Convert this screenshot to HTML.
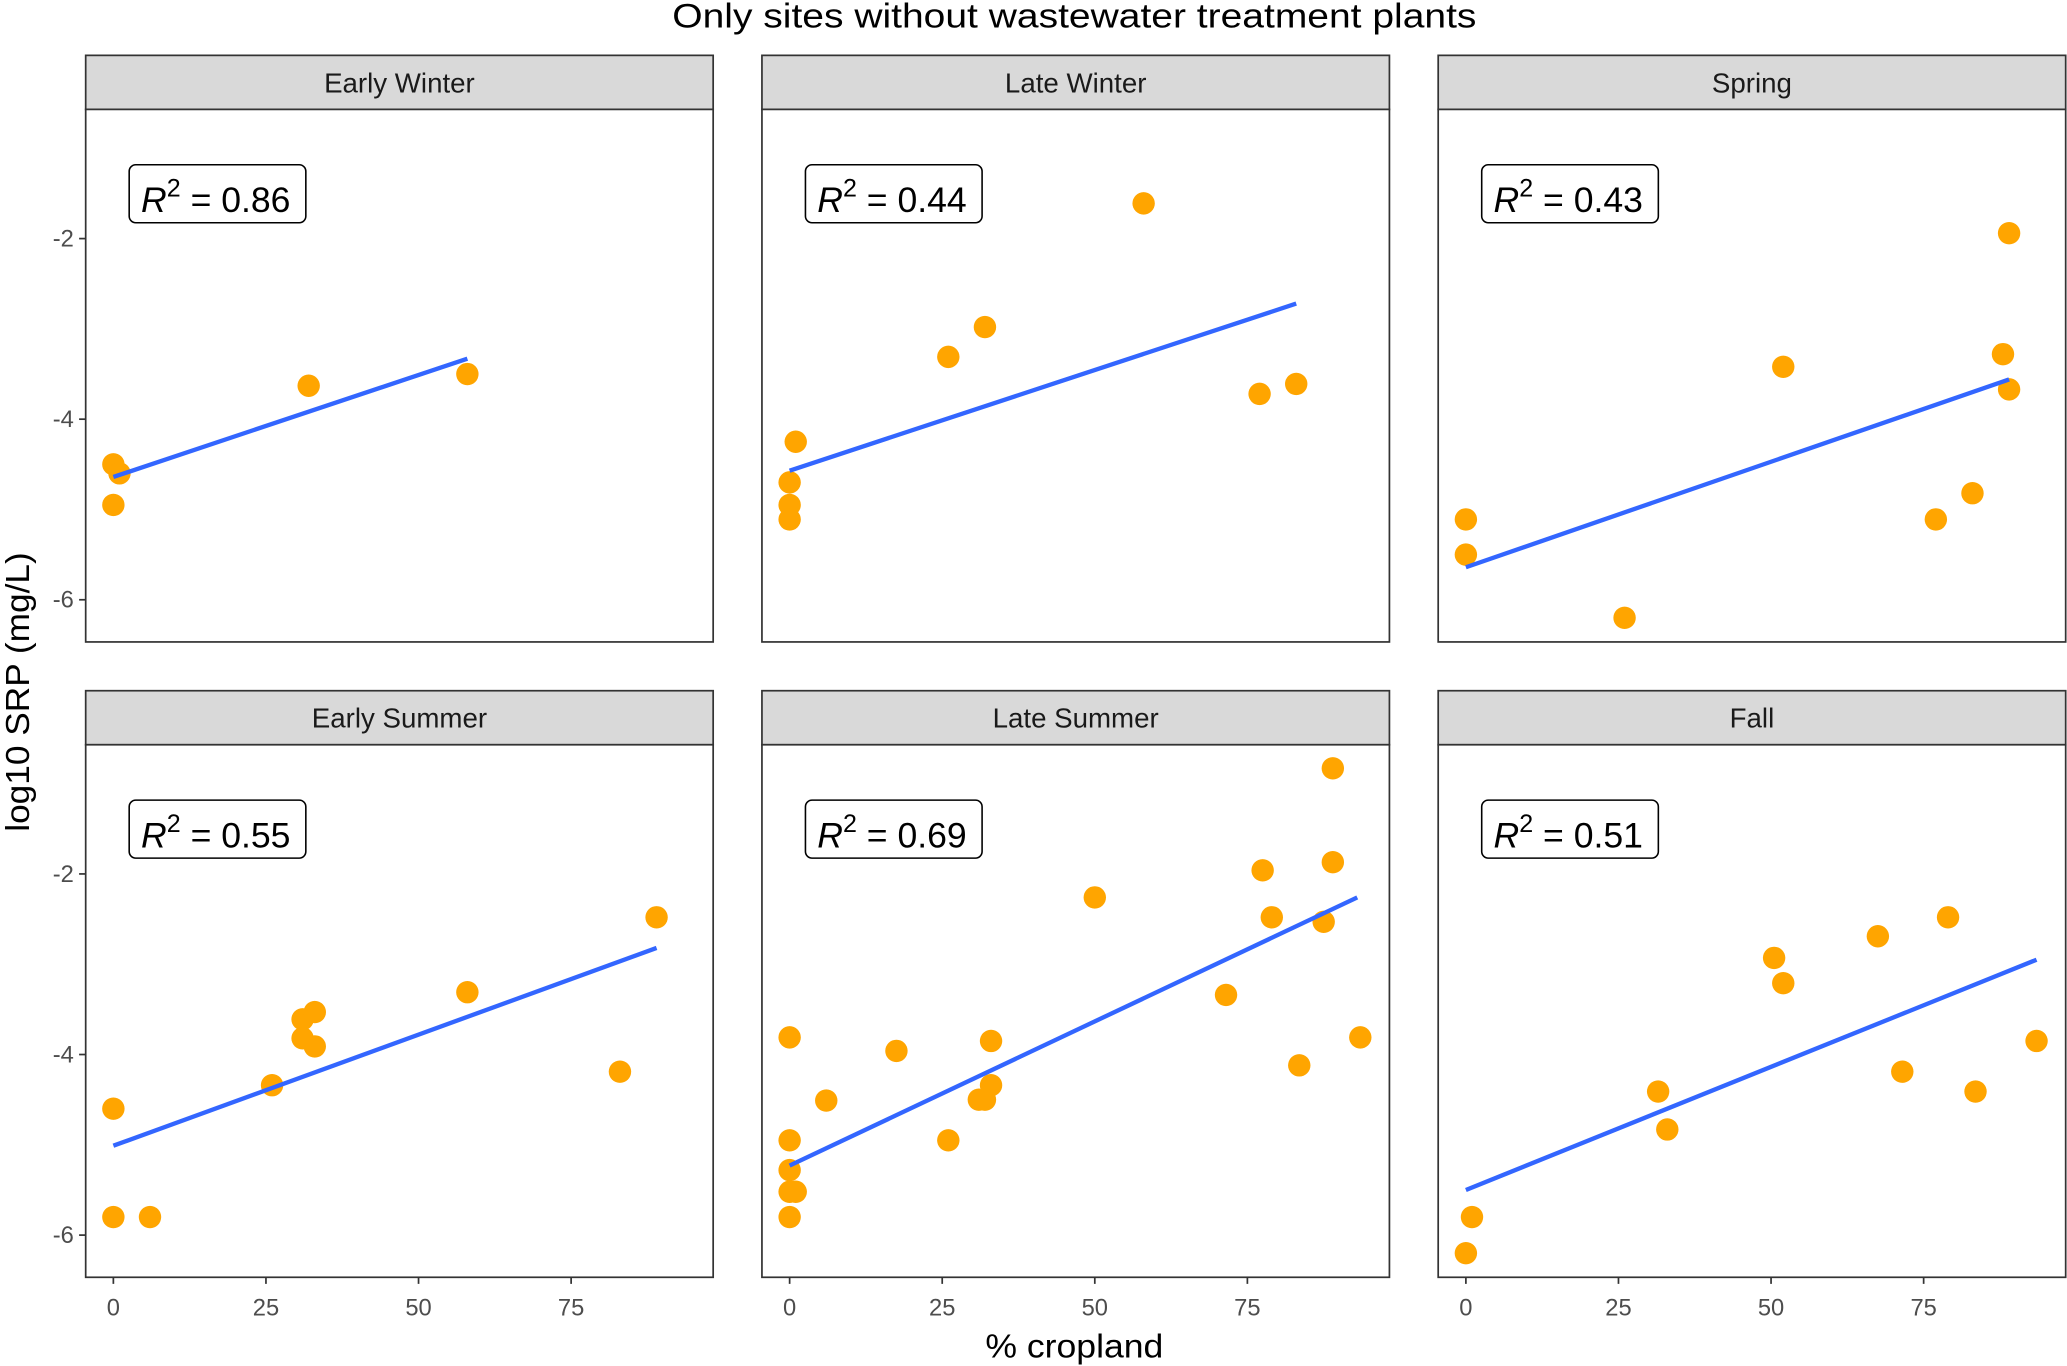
<!DOCTYPE html>
<html><head><meta charset="utf-8"><style>
html,body{margin:0;padding:0;background:#fff}
svg{display:block;font-family:"Liberation Sans",Arial,sans-serif}
</style></head><body>
<svg id="chart" width="2067" height="1366" viewBox="0 0 1568 1036.3" preserveAspectRatio="none" xmlns="http://www.w3.org/2000/svg">
<text x="815" y="21" text-anchor="middle" font-size="26" textLength="610" lengthAdjust="spacingAndGlyphs" fill="#000">Only sites without wastewater treatment plants</text>
<text x="815" y="1030" text-anchor="middle" font-size="25" textLength="135" lengthAdjust="spacingAndGlyphs" fill="#000">% cropland</text>
<text transform="translate(22,525) rotate(-90)" text-anchor="middle" font-size="25" textLength="212" lengthAdjust="spacingAndGlyphs" fill="#000">log10 SRP (mg/L)</text>
</svg>
<script>
const panelNames = ["Early Winter","Late Winter","Spring","Early Summer","Late Summer","Fall"];
const r2Values = ["0.86","0.44","0.43","0.55","0.69","0.51"];
const xTicks = [0,25,50,75];
const yTicks = [-2,-4,-6];
const ewX = [0,1,0,32,58];
const ewY = [-4.50,-4.60,-4.95,-3.63,-3.50];
const lwX = [58,26,32,77,83,1,0,0,0];
const lwY = [-1.61,-3.31,-2.98,-3.72,-3.61,-4.25,-4.70,-4.95,-5.11];
const spX = [0,0,26,52,77,83,89,88,89];
const spY = [-5.11,-5.50,-6.20,-3.42,-5.11,-4.82,-1.94,-3.28,-3.67];
const esX = [0,0,6,26,31,31,33,33,58,83,89];
const esY = [-4.60,-5.80,-5.80,-4.34,-3.82,-3.61,-3.53,-3.91,-3.31,-4.19,-2.48];
const lsX = [0,0,0,0,1,0,6,17.5,26,31,32,33,33,50,71.5,77.5,79,87.5,89,89,83.5,93.5];
const lsY = [-3.81,-4.95,-5.28,-5.52,-5.52,-5.80,-4.51,-3.96,-4.95,-4.50,-4.50,-3.85,-4.34,-2.26,-3.34,-1.96,-2.48,-2.53,-0.83,-1.87,-4.12,-3.81];
const faX = [0,1,31.5,33,50.5,52,67.5,71.5,79,83.5,93.5];
const faY = [-6.20,-5.80,-4.41,-4.83,-2.93,-3.21,-2.69,-4.19,-2.48,-4.41,-3.85];
const fitX0 = [0,0,0,0,0,0];
const fitY0 = [-4.64,-4.57,-5.64,-5.01,-5.23,-5.50];
const fitX1 = [58,83,89,89,93,93.5];
const fitY1 = [-3.33,-2.72,-3.56,-2.82,-2.26,-2.95];

const allX = [ewX,lwX,spX,esX,lsX,faX];
const allY = [ewY,lwY,spY,esY,lsY,faY];
const NS = "http://www.w3.org/2000/svg";
const svg = document.getElementById("chart");
const colLeft = [65,578,1091], panelW = 476;
const rowTop = [42,524], stripH = 41, panelH = 404;
function mk(tag, attrs, parent){const e=document.createElementNS(NS,tag);for(const k in attrs)e.setAttribute(k,attrs[k]);(parent||svg).appendChild(e);return e;}

for(let p=0;p<6;p++){
  const c=p%3, r=Math.floor(p/3);
  const L=colLeft[c], T=rowTop[r], PT=T+stripH;
  const xs = v => L + 21 + v*4.63;
  const ys = v => PT + 98 + (-2 - v)*68.5;
  const g = mk("g",{});
  
  
  const strip = mk("rect",{x:L,y:T,width:panelW,height:stripH,fill:"#d9d9d9",stroke:"#333","stroke-width":1.3},g);
  
  
  const st = mk("text",{x:L+panelW/2,y:T+28,"text-anchor":"middle","font-size":21,fill:"#1a1a1a"},g);
  st.textContent = panelNames[p];
  
  
  const bg = mk("rect",{x:L,y:PT,width:panelW,height:panelH,fill:"#fff",stroke:"#333","stroke-width":1.3},g);
  
  
  if(c===0){
    yTicks.forEach(t=>{
      mk("line",{x1:L-5,x2:L,y1:ys(t),y2:ys(t),stroke:"#333","stroke-width":1.3},g);
      const tt=mk("text",{x:L-9,y:ys(t)+6,"text-anchor":"end","font-size":18,fill:"#4d4d4d"},g);
      tt.textContent=t;
      
      
    });
  }
  if(r===1){
    xTicks.forEach(t=>{
      mk("line",{x1:xs(t),x2:xs(t),y1:PT+panelH,y2:PT+panelH+5,stroke:"#333","stroke-width":1.3},g);
      const tt=mk("text",{x:xs(t),y:PT+panelH+29,"text-anchor":"middle","font-size":18,fill:"#4d4d4d"},g);
      tt.textContent=t;
      
      
    });
  }
  const X=allX[p], Y=allY[p];
  for(let i=0;i<X.length;i++){
    const d=mk("circle",{cx:xs(X[i]),cy:ys(Y[i]),r:8.5,fill:"#FFA500"},g);
    
    
  }
  const ln=mk("line",{x1:xs(fitX0[p]),y1:ys(fitY0[p]),x2:xs(fitX1[p]),y2:ys(fitY1[p]),stroke:"#3366FF","stroke-width":3.3},g);
  
  
  const box=mk("rect",{x:L+33,y:PT+42,width:134,height:44,rx:5,fill:"#fff",stroke:"#000","stroke-width":1.2},g);
  
  
  const rt=mk("text",{x:L+42,y:PT+78,"font-size":27,fill:"#000"},g);
  rt.innerHTML='<tspan font-style="italic">R</tspan><tspan dy="-12" font-size="19">2</tspan><tspan dy="12"> = '+r2Values[p]+'</tspan>';
  
  
}
</script>
</body></html>
